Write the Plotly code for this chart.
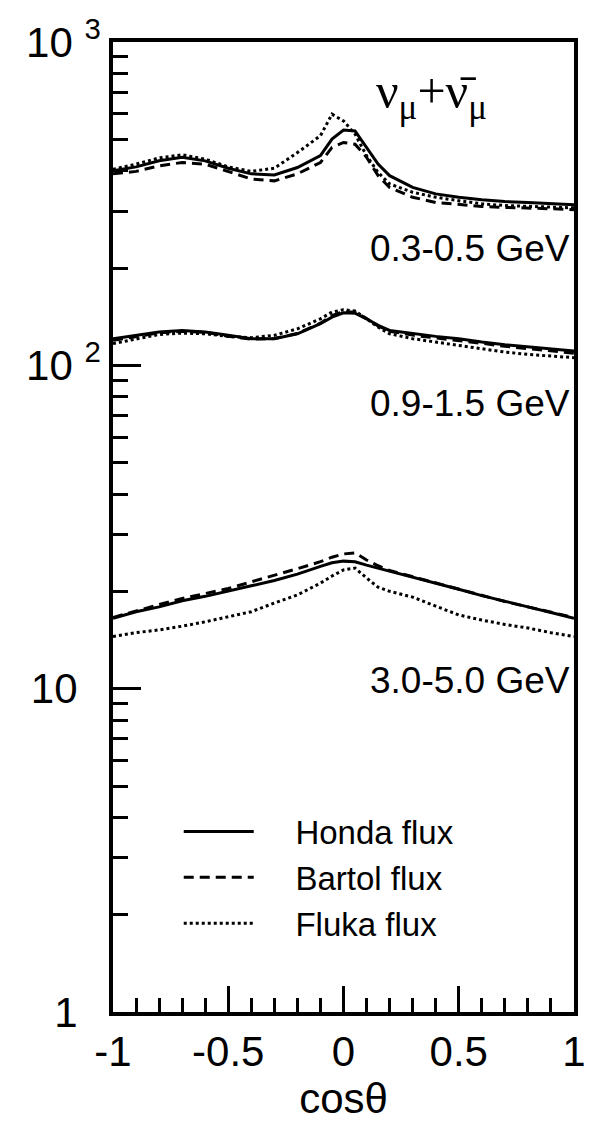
import plotly.graph_objects as go

cos_theta = [-1.0, -0.9, -0.8, -0.7, -0.6, -0.5, -0.4, -0.3, -0.2, -0.1, -0.05, 0.0,
             0.05, 0.1, 0.15, 0.2, 0.3, 0.4, 0.5, 0.6, 0.7, 0.8, 0.9, 1.0]

# 0.3-0.5 GeV
honda_low = [400, 411, 429, 440, 429, 407, 391, 388, 409, 445, 501, 534,
             531, 472, 419, 386, 355, 339, 331, 325, 321, 319, 317, 314]
bartol_low = [391, 398, 414, 424, 419, 398, 377, 372, 391, 424, 472, 489,
              483, 440, 386, 355, 331, 319, 314, 310, 308, 307, 305, 303]
fluka_low = [404, 419, 438, 448, 434, 411, 398, 407, 455, 513, 598, 570,
             519, 445, 395, 364, 343, 331, 323, 316, 312, 310, 308, 307]

# 0.9-1.5 GeV
honda_mid = [120.9, 123.8, 126.7, 128.2, 126.7, 123.8, 120.9, 120.9, 125.2, 134.5, 141.0, 145.4,
             145.0, 139.3, 132.9, 128.2, 125.2, 122.9, 120.9, 118.0, 115.8, 113.9, 112.0, 110.7]
bartol_mid = [119.5, 122.5, 126.0, 127.5, 126.5, 123.0, 120.5, 121.0, 125.5, 135.0, 142.5, 146.5,
              146.0, 139.5, 132.5, 127.5, 124.0, 121.5, 119.5, 117.0, 114.5, 112.5, 110.5, 109.0]
fluka_mid = [116.7, 120.9, 124.6, 125.8, 125.2, 122.9, 121.8, 123.8, 129.7, 139.3, 146.1, 148.6,
             147.2, 139.3, 131.3, 125.2, 120.9, 118.0, 115.3, 112.6, 109.9, 108.1, 106.6, 105.6]

# 3.0-5.0 GeV
honda_high = [16.5, 17.3, 17.9, 18.7, 19.3, 20.0, 20.8, 21.6, 22.6, 23.9, 24.5, 24.8,
              24.7, 24.1, 23.6, 23.0, 22.1, 21.2, 20.3, 19.4, 18.6, 17.9, 17.2, 16.5]
bartol_high = [16.6, 17.4, 18.2, 19.0, 19.7, 20.4, 21.4, 22.4, 23.5, 24.7, 25.5, 26.1,
               26.3, 25.0, 24.0, 23.2, 22.2, 21.2, 20.3, 19.4, 18.6, 17.9, 17.2, 16.6]
fluka_high = [14.5, 14.9, 15.2, 15.6, 16.1, 16.7, 17.3, 18.4, 19.5, 21.2, 22.3, 23.3,
              23.6, 22.0, 20.6, 20.0, 19.2, 18.0, 16.9, 16.3, 15.8, 15.4, 14.9, 14.5]

flux_names = ["Honda flux", "Bartol flux", "Fluka flux"]
band_labels = ["0.3-0.5 GeV", "0.9-1.5 GeV", "3.0-5.0 GeV"]

y_tickvals = [1, 10, 100, 1000]
y_ticktext = ["1\u00a0\u00a0", "10\u00a0\u00a0", "10 <sup>2</sup>", "10 <sup>3</sup>"]
x_tickvals = [-1, -0.5, 0, 0.5, 1]
x_ticktext = ["-1", "-0.5", "0", "0.5", "1"]

bands = [
    (honda_low, bartol_low, fluka_low),
    (honda_mid, bartol_mid, fluka_mid),
    (honda_high, bartol_high, fluka_high),
]
dashes = ["solid", "10px,6px", "3px,3px"]

fig = go.Figure()
for bi, band in enumerate(bands):
    for fi, vals in enumerate(band):
        fig.add_trace(go.Scatter(
            x=cos_theta, y=vals, mode="lines",
            line=dict(color="black", width=3, dash=dashes[fi]),
            name="\u00a0\u00a0\u00a0\u00a0" + flux_names[fi], legendgroup=flux_names[fi],
            showlegend=(bi == 0),
        ))

y_minor = [m * 10 ** k for k in range(3) for m in range(2, 10)]
x_minor = [round(-1 + 0.1 * i, 1) for i in range(21)]

FONT = "Liberation Sans, Arial, sans-serif"

fig.update_layout(
    width=598, height=1127,
    margin=dict(l=113, r=15, t=41, b=115),
    paper_bgcolor="white", plot_bgcolor="white",
    font=dict(family=FONT, color="black"),
    showlegend=True,
    legend=dict(x=0.1426, y=0.215, xanchor="left", yanchor="top",
                font=dict(size=33, family=FONT), bgcolor="rgba(0,0,0,0)",
                itemwidth=70, tracegroupgap=0),
    xaxis=dict(range=[-1, 1], showgrid=False, zeroline=False,
               showline=True, linecolor="black", linewidth=3.5, mirror=True,
               ticks="inside", ticklen=26, tickwidth=3, tickcolor="black",
               tickvals=x_tickvals, ticktext=x_ticktext,
               tickfont=dict(size=42, family=FONT),
               minor=dict(ticks="inside", ticklen=14, tickwidth=3, tickcolor="black",
                          tickvals=x_minor),
               title=dict(text="cosθ", font=dict(size=42, family=FONT), standoff=10)),
    yaxis=dict(type="log", range=[0, 3], showgrid=False, zeroline=False,
               showline=True, linecolor="black", linewidth=3.5, mirror=True,
               ticks="inside", ticklen=28, tickwidth=3, tickcolor="black",
               tickvals=y_tickvals, ticktext=y_ticktext,
               tickfont=dict(size=42, family=FONT), ticklabelstandoff=0,
               minor=dict(ticks="inside", ticklen=15, tickwidth=3, tickcolor="black",
                          tickvals=y_minor)),
)

label_y = [0.787, 0.627, 0.342]
for txt, yy in zip(band_labels, label_y):
    fig.add_annotation(text=txt, xref="paper", yref="paper", x=0.995, y=yy,
                       xanchor="right", yanchor="middle", showarrow=False,
                       font=dict(size=37, family=FONT, color="black"))

fig.add_annotation(text="ν<sub>μ</sub>+ν\u0304<sub>μ</sub>", xref="paper", yref="paper",
                   x=0.69, y=0.945, xanchor="center", yanchor="middle", showarrow=False,
                   font=dict(size=50, family="Liberation Serif, serif", color="black"))

fig.write_html("out.html")
